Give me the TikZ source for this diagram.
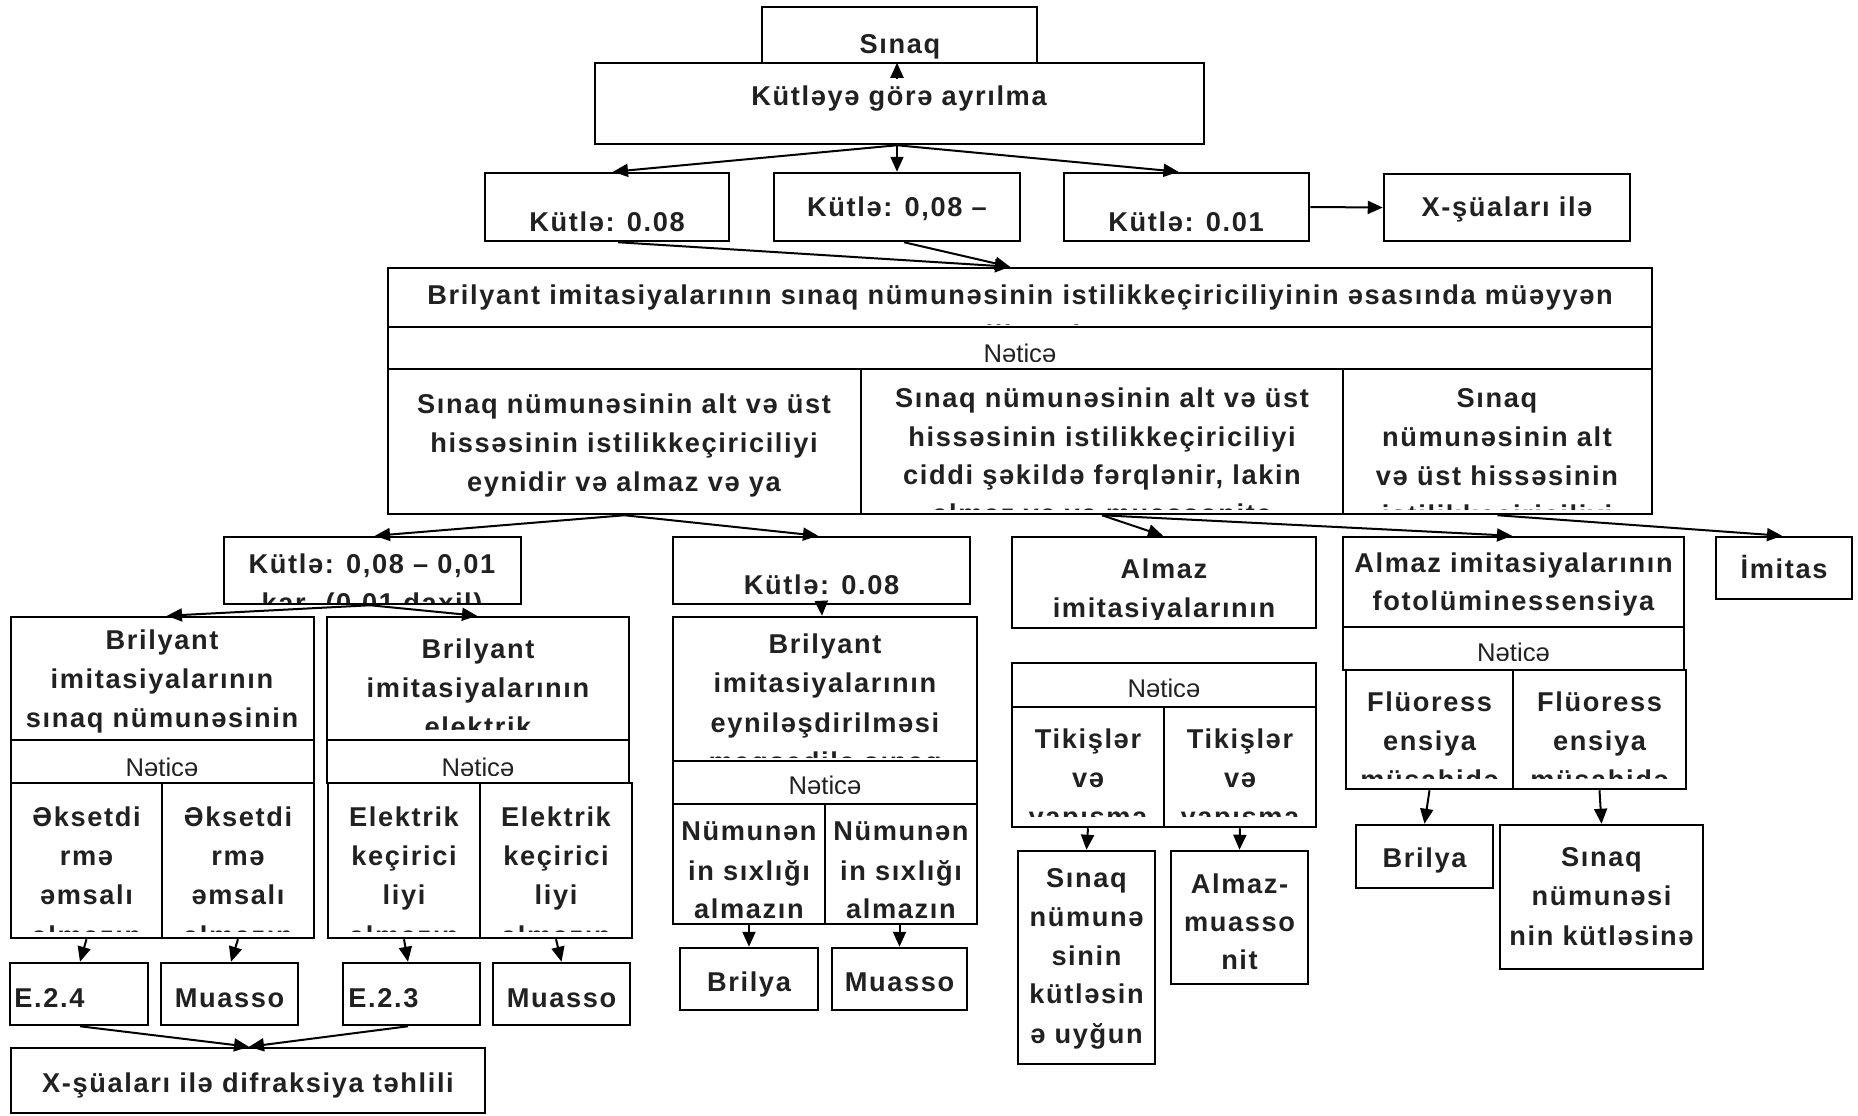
\documentclass[tikz,border=0pt]{standalone}
\usepackage{fontspec}
\setmainfont{Liberation Sans}
\newfontfamily\bsp{Liberation Sans}[LetterSpace=6]
\usetikzlibrary{arrows.meta,fit,calc}
\tikzset{
  box/.style={draw, line width=1.25pt, inner sep=0pt},
  tx/.style={font=\bsp\bfseries\fontsize{13.6}{15}\selectfont, inner sep=0pt, anchor=base, text=black!87},
  txw/.style={tx, anchor=base west},
  nt/.style={font=\fontsize{12.8}{15}\selectfont, inner sep=0pt, anchor=base, text=black!87},
  arr/.style={line width=1pt, -{Triangle[length=7.5pt,width=6.5pt]}},
}
\newcounter{tn}
\newcommand\bx[5]{\node[box, fit={(#2,#3) (#4,#5)}] (#1) {};}
\newcommand\tl[4][tx]{\stepcounter{tn}\node[#1] (t\arabic{tn}) at (#2,#3) {#4};}
\begin{document}
\begin{tikzpicture}[x=0.5pt,y=-0.5pt]
\fill[white] (0,0) rectangle (1858,1115);
\useasboundingbox (0,0) rectangle (1858,1115);
% ---------- boxes ----------
\bx{sinaq}{762}{7}{1037}{63}
\bx{kut}{595}{63}{1204}{144}
\bx{ka}{485}{173}{729}{241}
\bx{kb}{774}{173}{1020}{241}
\bx{kc}{1064}{173}{1309}{241}
\bx{xs}{1384}{174}{1630}{241}
\bx{mt}{388}{268}{1652}{327}
\bx{mn}{388}{327}{1652}{369}
\bx{cl}{388}{369}{861}{514}
\bx{cm}{861}{369}{1343}{514}
\bx{cr}{1343}{369}{1652}{514}
\bx{kd}{224}{537}{521}{604}
\bx{bl}{11}{617}{314}{740}
\bx{bln}{11}{740}{314}{783}
\bx{bla}{11}{783}{162}{938}
\bx{blb}{162}{783}{314}{938}
\bx{br}{327}{617}{629}{740}
\bx{brn}{327}{740}{629}{783}
\bx{bra}{328}{783}{480}{938}
\bx{brb}{480}{783}{632}{938}
\bx{e24}{10}{963}{148}{1025}
\bx{mua}{161}{963}{298}{1025}
\bx{e23}{343}{963}{480}{1025}
\bx{mub}{493}{963}{630}{1025}
\bx{xd}{11}{1048}{485}{1113}
\bx{ke}{673}{537}{970}{604}
\bx{bm}{673}{617}{977}{761}
\bx{bmn}{673}{761}{977}{804}
\bx{bma}{673}{804}{825}{924}
\bx{bmb}{825}{804}{977}{924}
\bx{bria}{680}{948}{818}{1010}
\bx{muc}{832}{948}{967}{1010}
\bx{al}{1012}{537}{1316}{628}
\bx{aln}{1012}{663}{1316}{707}
\bx{ala}{1012}{707}{1164}{827}
\bx{alb}{1164}{707}{1316}{827}
\bx{sn}{1018}{851}{1155}{1064}
\bx{am}{1171}{851}{1308}{984}
\bx{fo}{1343}{537}{1684}{627}
\bx{fon}{1343}{627}{1684}{670}
\bx{foa}{1346}{670}{1513}{789}
\bx{fob}{1513}{670}{1686}{789}
\bx{brib}{1356}{825}{1493}{888}
\bx{sk}{1500}{825}{1703}{969}
\bx{im}{1716}{537}{1852}{599}
% ---------- texts ----------
\tl{900}{53}{Sınaq}
\tl{899}{105}{Kütləyə görə ayrılma}
\tl{607}{231}{Kütlə: 0.08}
\tl{897}{216}{Kütlə: 0,08 –}
\tl{1186}{231}{Kütlə: 0.01}
\tl{1507}{216}{X-şüaları ilə}
\begin{scope}
\clip (390,270) rectangle (1650,324);
\tl{1020}{304}{Brilyant imitasiyalarının sınaq nümunəsinin istilikkeçiriciliyinin əsasında müəyyən}
\tl{1020}{344}{edilməsi}
\end{scope}
\begin{scope}
\clip (390,329) rectangle (1650,361);
\tl[nt]{1020}{362}{Nəticə}
\end{scope}
\tl{624}{413}{Sınaq nümunəsinin alt və üst}
\tl{624}{452}{hissəsinin istilikkeçiriciliyi}
\tl{624}{491}{eynidir və almaz və ya}
\begin{scope}
\clip (863,371) rectangle (1650,509);
\tl{1102}{407}{Sınaq nümunəsinin alt və üst}
\tl{1102}{446}{hissəsinin istilikkeçiriciliyi}
\tl{1102}{484}{ciddi şəkildə fərqlənir, lakin}
\tl{1102}{523}{almaz və ya muassonitə}
\tl{1497}{407}{Sınaq}
\tl{1497}{446}{nümunəsinin alt}
\tl{1497}{485}{və üst hissəsinin}
\tl{1497}{524}{istilikkeçiriciliyi}
\end{scope}
\begin{scope}
\clip (226,539) rectangle (519,602);
\tl{372}{573}{Kütlə: 0,08 – 0,01}
\tl{372}{612}{kar. (0,01 daxil)}
\end{scope}
\begin{scope}
\clip (13,619) rectangle (312,736);
\tl{162}{649}{Brilyant}
\tl{162}{688}{imitasiyalarının}
\tl{162}{727}{sınaq nümunəsinin}
\end{scope}
\begin{scope}
\clip (329,619) rectangle (627,729);
\tl{478}{658}{Brilyant}
\tl{478}{697}{imitasiyalarının}
\tl{478}{736}{elektrik}
\end{scope}
\begin{scope}
\clip (13,742) rectangle (627,775);
\tl[nt]{162}{776}{Nəticə}
\tl[nt]{478}{776}{Nəticə}
\end{scope}
\begin{scope}
\clip (13,785) rectangle (630,931);
\tl{86.5}{826}{Əksetdi}
\tl{86.5}{865}{rmə}
\tl{86.5}{904}{əmsalı}
\tl{86.5}{945}{almazın}
\tl{238}{826}{Əksetdi}
\tl{238}{865}{rmə}
\tl{238}{904}{əmsalı}
\tl{238}{945}{almazın}
\tl{404}{826}{Elektrik}
\tl{404}{865}{keçirici}
\tl{404}{904}{liyi}
\tl{404}{945}{almazın}
\tl{556}{826}{Elektrik}
\tl{556}{865}{keçirici}
\tl{556}{904}{liyi}
\tl{556}{945}{almazın}
\end{scope}
\tl[txw]{14}{1007}{E.2.4}
\tl{229.5}{1007}{Muasso}
\tl[txw]{348}{1007}{E.2.3}
\tl{561.5}{1007}{Muasso}
\tl{248}{1092}{X-şüaları ilə difraksiya təhlili}
\tl{821.5}{594}{Kütlə: 0.08}
\begin{scope}
\clip (675,619) rectangle (975,757);
\tl{825}{653}{Brilyant}
\tl{825}{692}{imitasiyalarının}
\tl{825}{732}{eyniləşdirilməsi}
\tl{825}{771}{məqsədilə sınaq}
\end{scope}
\begin{scope}
\clip (675,763) rectangle (975,793);
\tl[nt]{825}{794}{Nəticə}
\end{scope}
\tl{749}{840}{Nümunən}
\tl{749}{880}{in sıxlığı}
\tl{749}{918}{almazın}
\tl{901}{840}{Nümunən}
\tl{901}{880}{in sıxlığı}
\tl{901}{918}{almazın}
\tl{749}{991}{Brilya}
\tl{899.5}{991}{Muasso}
\begin{scope}
\clip (1014,539) rectangle (1314,619);
\tl{1164}{578}{Almaz}
\tl{1164}{617}{imitasiyalarının}
\end{scope}
\begin{scope}
\clip (1014,665) rectangle (1314,696);
\tl[nt]{1164}{697}{Nəticə}
\end{scope}
\begin{scope}
\clip (1014,709) rectangle (1314,816);
\tl{1088}{748}{Tikişlər}
\tl{1088}{787}{və}
\tl{1088}{826}{yapışma}
\tl{1240}{748}{Tikişlər}
\tl{1240}{787}{və}
\tl{1240}{826}{yapışma}
\end{scope}
\tl{1086.5}{887}{Sınaq}
\tl{1086.5}{926}{nümunə}
\tl{1086.5}{965}{sinin}
\tl{1086.5}{1003}{kütləsin}
\tl{1086.5}{1043}{ə uyğun}
\tl{1239.5}{893}{Almaz-}
\tl{1239.5}{931}{muasso}
\tl{1239.5}{969}{nit}
\tl{1513.5}{572}{Almaz imitasiyalarının}
\tl{1513.5}{610}{fotolüminessensiya}
\begin{scope}
\clip (1345,629) rectangle (1682,660);
\tl[nt]{1513.5}{661}{Nəticə}
\end{scope}
\begin{scope}
\clip (1348,672) rectangle (1684,778);
\tl{1429.5}{711}{Flüoress}
\tl{1429.5}{750}{ensiya}
\tl{1429.5}{789}{müşahidə}
\tl{1599.5}{711}{Flüoress}
\tl{1599.5}{750}{ensiya}
\tl{1599.5}{789}{müşahidə}
\end{scope}
\tl{1424.5}{867}{Brilya}
\tl{1601.5}{866}{Sınaq}
\tl{1601.5}{905}{nümunəsi}
\tl{1601.5}{945}{nin kütləsinə}
\tl{1784}{578}{İmitas}
% ---------- connectors ----------
\coordinate (upS) at ($(kut.north)+(-2.5,17)$);
\draw[arr] (upS) -- ($(kut.north)+(-2.5,1)$);
\coordinate (kutS) at ($(kut.south)+(-2.5,0)$);
\draw[arr] (kutS) -- ($(ka.north)+(6,0)$);
\draw[arr] (kutS) -- (kb.north);
\draw[arr] (kutS) -- ($(kc.north)+(-8,0)$);
\draw[arr] ($(ka.south)+(11,0)$) -- ($(mt.north)+(-10,0)$);
\draw[arr] ($(kb.south)+(7,0)$) -- ($(mt.north)+(-10,0)$);
\draw[arr] (kc.east) -- (xs.west);
\draw[arr] (cl.south) -- ($(kd.north)+(2.5,0)$);
\draw[arr] (cl.south) -- ($(ke.north)+(-3.5,0)$);
\draw[arr] (cm.south) -- ($(al.north)+(-1,0)$);
\draw[arr] (cm.south) -- ($(fo.north)+(-1.5,0)$);
\draw[arr] (cr.south) -- ($(im.north)+(-2,0)$);
\coordinate (kdS) at ($(kd.south)+(-2.5,0)$);
\draw[arr] (kdS) -- ($(bl.north)+(4.5,0)$);
\draw[arr] (kdS) -- ($(br.north)+(-1,0)$);
\draw[arr] (ke.south) -- ($(bm.north)+(-3,0)$);
\draw[arr] (bla.south) -- ($(e24.north)+(1,0)$);
\draw[arr] (blb.south) -- ($(mua.north)+(1.5,0)$);
\draw[arr] (bra.south) -- ($(e23.north)+(-3.5,0)$);
\draw[arr] (brb.south) -- (mub.north);
\draw[arr] ($(e24.south)+(1,0)$) -- ($(xd.north)+(1,0)$);
\draw[arr] ($(e23.south)+(-3.5,0)$) -- ($(xd.north)+(1,0)$);
\draw[arr] (bma.south) -- (bria.north);
\draw[arr] (muc.north |- bmb.south) -- (muc.north);
\draw[arr] (ala.south) -- (sn.north);
\draw[arr] (alb.south) -- (am.north);
\draw[arr] (foa.south) -- (brib.north);
\draw[arr] (fob.south) -- (sk.north);
\end{tikzpicture}
\end{document}
